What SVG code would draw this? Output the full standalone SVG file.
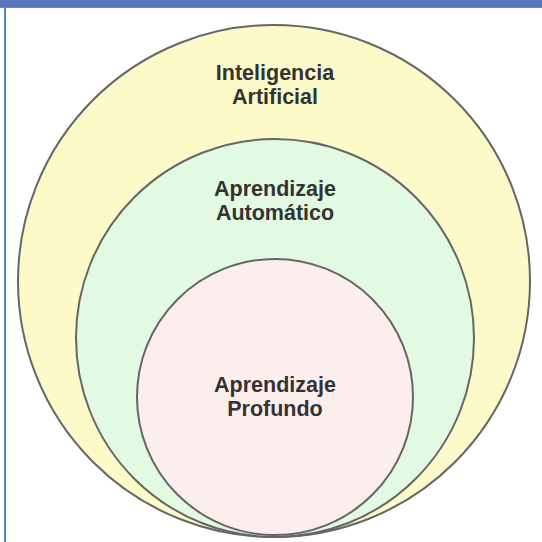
<svg xmlns="http://www.w3.org/2000/svg" width="542" height="542" viewBox="0 0 542 542">
<style>
.c{stroke:#666;stroke-width:2}
.t{font-family:"Liberation Sans",Arial,sans-serif;font-weight:bold;font-size:21.5px;fill:#333;text-anchor:middle}
</style>
<rect width="542" height="542" fill="#fff"/>
<rect x="0" y="0" width="542" height="7" fill="#5677ba"/>
<line x1="0" y1="7.5" x2="542" y2="7.5" stroke="#4c8fd3" stroke-width="1"/>
<line x1="5" y1="7" x2="5" y2="542" stroke="#4a86c8" stroke-width="2"/>
<g id="ia">
<circle class="c" cx="274" cy="281" r="256" fill="#fcfac9"/>
<text class="t" x="275" y="80">Inteligencia</text>
<text class="t" x="275" y="104">Artificial</text>
</g>
<g id="aa">
<circle class="c" cx="275" cy="338" r="199" fill="#e2f9e2"/>
<text class="t" x="275" y="196">Aprendizaje</text>
<text class="t" x="275" y="220">Automático</text>
</g>
<g id="ap">
<circle class="c" cx="275" cy="397" r="138" fill="#fdeeee"/>
<text class="t" x="275" y="392">Aprendizaje</text>
<text class="t" x="275" y="416">Profundo</text>
</g>
<g id="connectors"/>
</svg>
